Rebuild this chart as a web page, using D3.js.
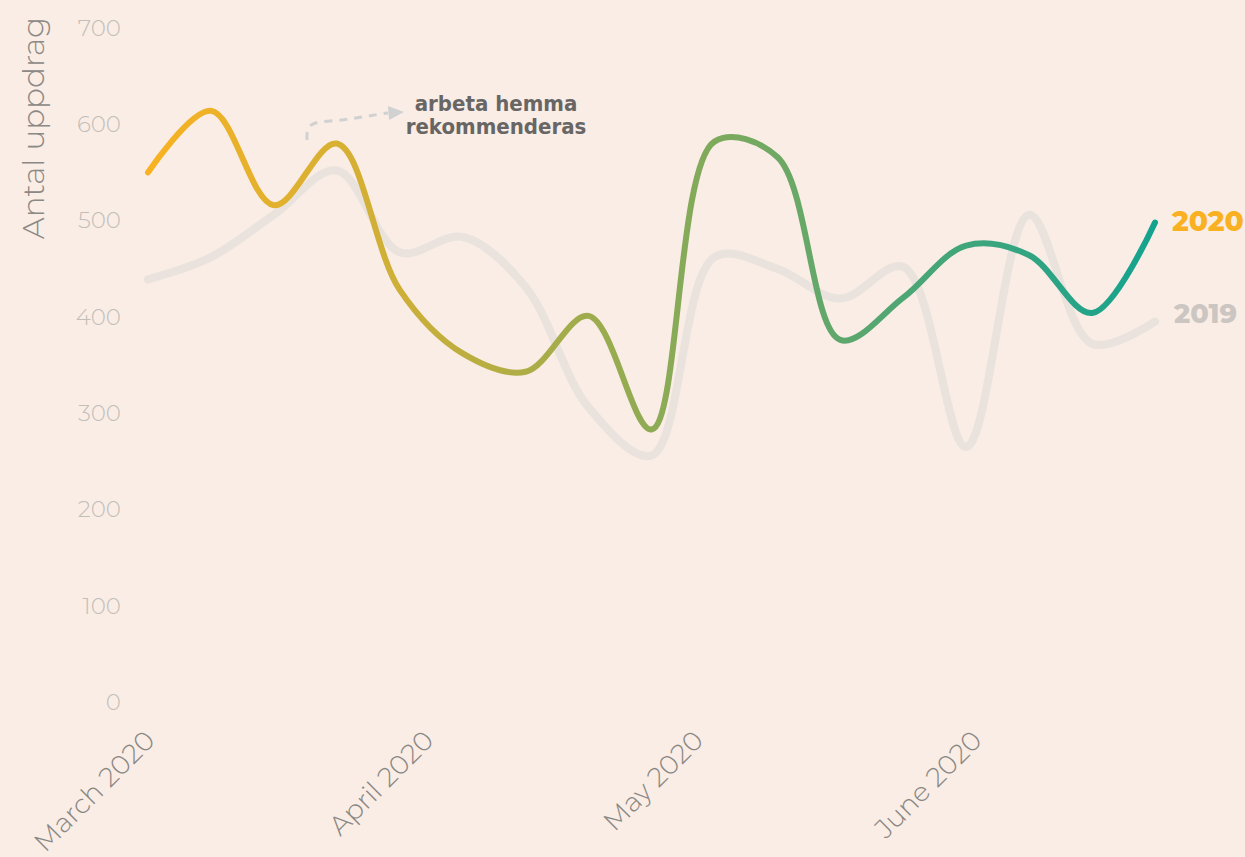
<!DOCTYPE html>
<html>
<head>
<meta charset="utf-8">
<script src="https://cdn.jsdelivr.net/npm/d3@7"></script>
<style>
  html, body { margin: 0; padding: 0; background: #f9ede6; }
  svg { display: block; }
</style>
</head>
<body>
<svg id="chart" width="1245" height="857"></svg>
<script>
// Weekly counts of assignments, March–June
const weeks = ["2020-03-01","2020-03-08","2020-03-15","2020-03-22","2020-03-29","2020-04-05",
  "2020-04-12","2020-04-19","2020-04-26","2020-05-03","2020-05-10","2020-05-17","2020-05-24",
  "2020-05-31","2020-06-07","2020-06-14","2020-06-21"];
const values2020 = [550, 614, 516, 580, 428, 362, 343, 401, 283, 582, 566, 376, 420, 474, 464, 404, 498];
const values2019 = [439, 462, 506, 552, 467, 483, 431, 306, 256, 462, 450, 419, 452, 265, 506, 372, 395];
const yTicks = [0, 100, 200, 300, 400, 500, 600, 700];
const monthTicks = ["2020-03-01", "2020-04-01", "2020-05-01", "2020-06-01"];
const monthLabels = ["March 2020", "April 2020", "May 2020", "June 2020"];
const yTitle = "Antal uppdrag";
const noteLines = ["arbeta hemma", "rekommenderas"];

const parse = d3.timeParse("%Y-%m-%d");
const dates = weeks.map(parse);

const svg = d3.select("#chart");
const x = d3.scaleTime().domain([dates[0], dates[dates.length - 1]]).range([148, 1155]);
const y = d3.scaleLinear().domain([0, 700]).range([702, 28]);

const font = "Montserrat, Inter, 'Noto Sans', sans-serif";

// Gradient for the current-year line
const defs = svg.append("defs");
const grad = defs.append("linearGradient")
  .attr("id", "g2020").attr("gradientUnits", "userSpaceOnUse")
  .attr("x1", x.range()[0]).attr("x2", x.range()[1]).attr("y1", 0).attr("y2", 0);
[["0%", "#f8b222"], ["25%", "#cdaf38"], ["50%", "#8eab54"], ["75%", "#4ea674"], ["100%", "#14a38f"]]
  .forEach(([o, c]) => grad.append("stop").attr("offset", o).attr("stop-color", c));

// Y axis labels
const yAxis = svg.append("g").attr("transform", "translate(121,0)")
  .call(d3.axisLeft(y).tickValues(yTicks).tickSize(0).tickPadding(0));
yAxis.select(".domain").remove();
yAxis.selectAll("text")
  .attr("fill", "#c4beb9").style("font-family", font).style("font-size", "23px").style("font-weight", 300);

svg.append("text")
  .attr("transform", "translate(44,128) rotate(-90)")
  .attr("text-anchor", "middle")
  .attr("fill", "#8c8884").style("font-family", font).style("font-size", "31px").style("font-weight", 300)
  .text(yTitle);

// X axis month labels
const xAxis = svg.append("g").attr("transform", "translate(0,712)")
  .call(d3.axisBottom(x).tickValues(monthTicks.map(parse)).tickFormat((d, i) => monthLabels[i]).tickSize(0).tickPadding(0));
xAxis.select(".domain").remove();
xAxis.selectAll("text")
  .attr("text-anchor", "end")
  .attr("dy", 0).attr("y", 0)
  .attr("transform", "translate(8,30) rotate(-45)")
  .attr("fill", "#8a8783").style("font-family", font).style("font-size", "27px").style("font-weight", 300);

const line = d3.line().x((d, i) => x(dates[i])).y(d => y(d)).curve(d3.curveCatmullRom.alpha(0.5));

svg.append("path").datum(values2019)
  .attr("d", line).attr("fill", "none")
  .attr("stroke", "#e9e2dd").attr("stroke-width", 8).attr("stroke-linecap", "round").attr("stroke-linejoin", "round");

svg.append("path").datum(values2020)
  .attr("d", line).attr("fill", "none")
  .attr("stroke", "url(#g2020)").attr("stroke-width", 6).attr("stroke-linecap", "round").attr("stroke-linejoin", "round");

// End labels
const last = values2020.length - 1;
svg.append("text").attr("x", 1172).attr("y", y(values2020[last]) + 9)
  .attr("fill", "#f9b122").style("font-family", font).style("font-size", "28px").style("font-weight", 800)
  .text("2020");
svg.append("text").attr("x", 1174).attr("y", y(values2019[last]) + 1)
  .attr("fill", "#cbc6c2").style("font-family", font).style("font-size", "27px").style("font-weight", 800)
  .text("2019");

// Annotation with dashed arrow
svg.append("path")
  .attr("d", "M307,140 C306,124 312,122 330,121 C350,120 365,116 388,113")
  .attr("fill", "none").attr("stroke", "#d0d1d1").attr("stroke-width", 3).attr("stroke-dasharray", "8,7");
svg.append("path")
  .attr("d", "M388,106 L404,112 L389,120 Z").attr("fill", "#d0d1d1");

const note = svg.append("text").attr("text-anchor", "middle")
  .attr("fill", "#686664").style("font-family", "'DejaVu Sans Condensed', 'Liberation Sans Narrow', sans-serif")
  .style("font-size", "22px").style("font-weight", 700);
noteLines.forEach((t, i) => note.append("tspan").attr("x", 496).attr("y", 111 + i * 23).text(t));
</script>
</body>
</html>
